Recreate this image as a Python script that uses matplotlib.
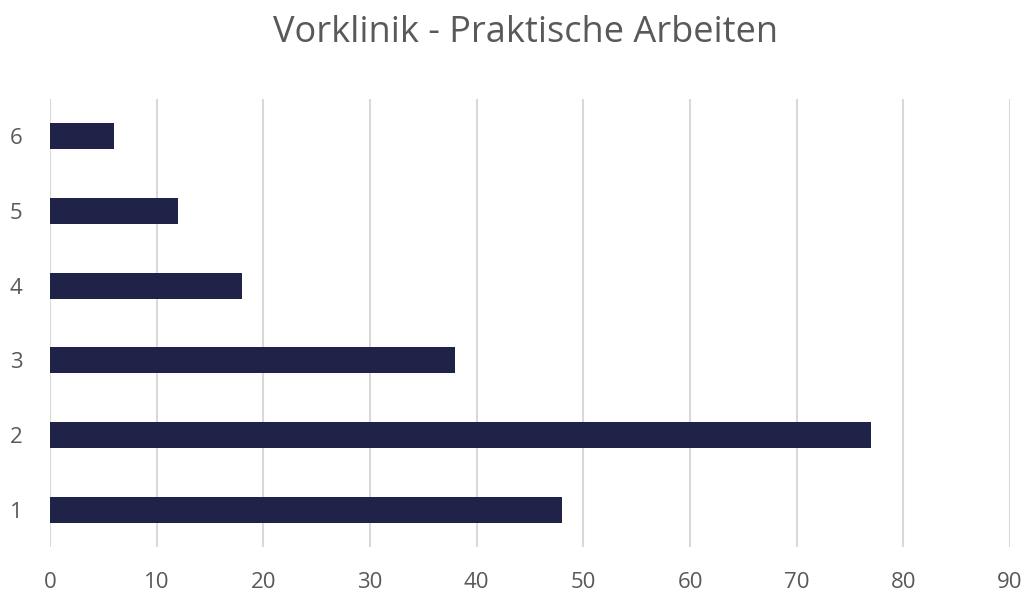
import matplotlib.pyplot as plt

categories = ['1', '2', '3', '4', '5', '6']
values = [48, 77, 38, 18, 12, 6]
x_ticks = [0, 10, 20, 30, 40, 50, 60, 70, 80, 90]

plt.rcParams['font.family'] = ['Open Sans', 'DejaVu Sans']

fig = plt.figure(figsize=(10.24, 5.94), dpi=100)
ax = fig.add_axes([50 / 1024, 1 - 547 / 594, 960 / 1024, 448 / 594])

pos = range(1, len(categories) + 1)
ax.barh(pos, values, height=0.35, color='#1F2348', zorder=3)

ax.set_xlim(0, 90)
ax.set_ylim(0.5, 6.5)
ax.set_xticks(x_ticks)
ax.set_yticks(list(pos))
ax.set_yticklabels(categories)
ax.grid(axis='x', color='#D9D9D9', linewidth=1.5, zorder=0)
for s in ax.spines.values():
    s.set_visible(False)
ax.tick_params(length=0, labelsize=16, colors='#595959', pad=20)
ax.tick_params(axis='x', pad=18)

fig.text(0.513, 1 - 33 / 594, 'Vorklinik - Praktische Arbeiten', ha='center', va='center',
         fontsize=26, color='#595959')

fig.savefig('out.png', dpi=100)
